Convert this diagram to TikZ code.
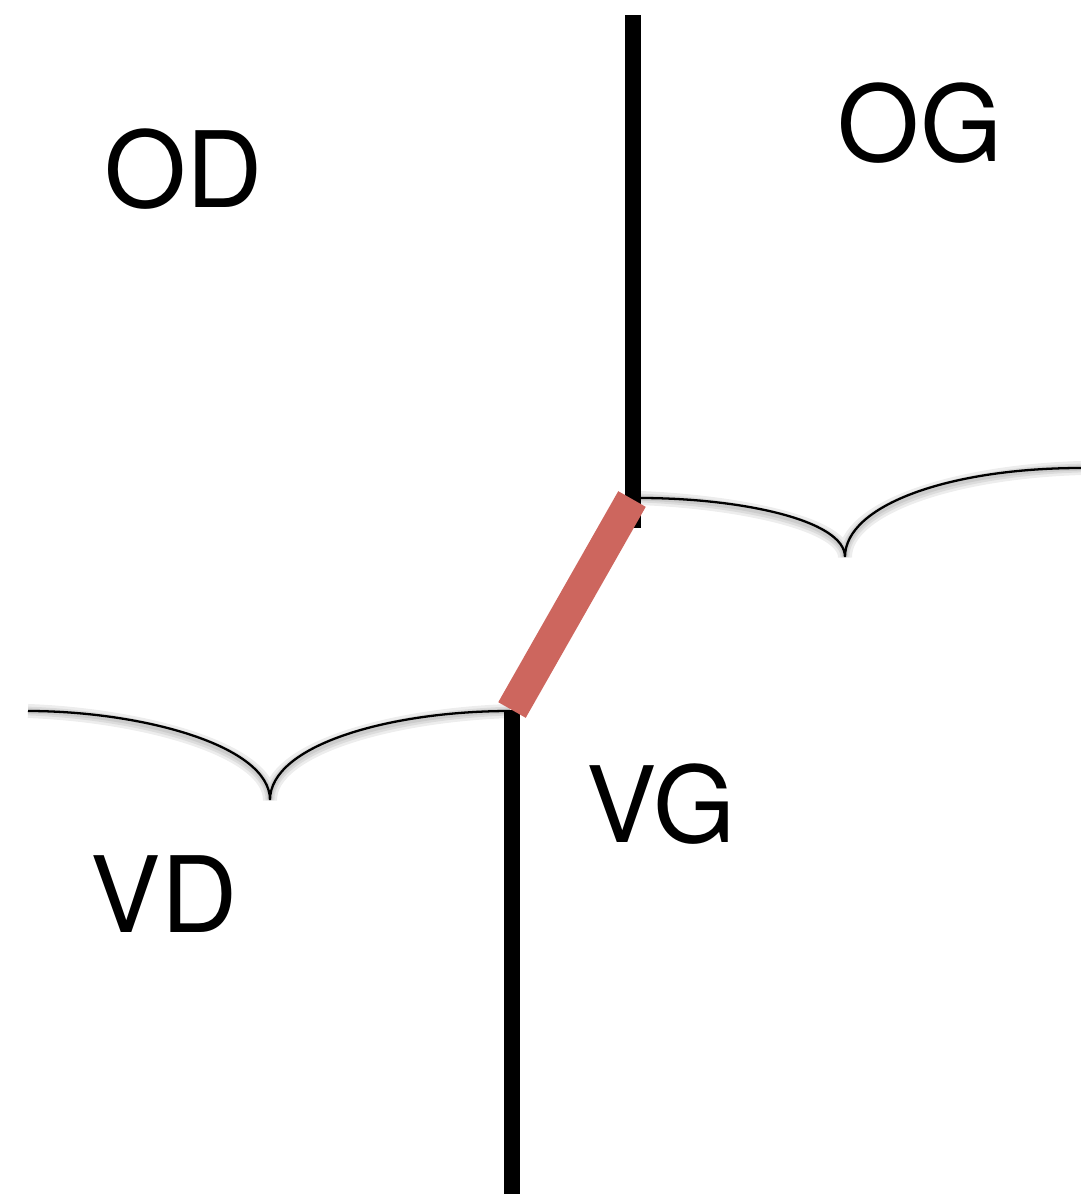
\documentclass[tikz,border=0pt]{standalone}
\usepackage{fontspec}
\setmainfont{TeX Gyre Heros}
\definecolor{barred}{RGB}{205,102,94}
\begin{document}
\begin{tikzpicture}[x=0.02cm,y=-0.02cm,
  wall/.style={line width=9.07pt,black},
  bar/.style={line width=18pt,barred},
  brace/.style={line width=1.3pt,black},
  braceshadow/.style={black,opacity=0.07},
  lab/.style={font=\fontsize{60}{60}\selectfont,anchor=base,inner sep=0pt}]
\useasboundingbox (0,0) rectangle (1081,1198);
% coordinates
\coordinate (t0) at (633,15);
\coordinate (t1) at (633,528);
\coordinate (b0) at (512,710);
\coordinate (b1) at (512,1194);
\coordinate (r0) at (632,499);
\coordinate (r1) at (512,710);
\coordinate (lb0) at (28,711);
\coordinate (lbc) at (270,800);
\coordinate (lb1) at (510,711);
\coordinate (rb0) at (640,498);
\coordinate (rbc) at (845,557);
\coordinate (rb1) at (1081,468);
% brace shadows
\foreach \s/\w in {4/8,4/5,3/3}{
 \draw[braceshadow,line width=\w pt,yshift=-\s*0.02cm] (lb0) .. controls (140,711) and (270,745) .. (lbc) .. controls (270,745) and (390,711) .. (lb1);
 \draw[braceshadow,line width=\w pt,yshift=-\s*0.02cm] (rb0) .. controls (740,498) and (845,520) .. (rbc) .. controls (845,505) and (950,468) .. (rb1);
}
% braces
\draw[brace] (lb0) .. controls (140,711) and (270,745) .. (lbc) .. controls (270,745) and (390,711) .. (lb1);
\draw[brace] (rb0) .. controls (740,498) and (845,520) .. (rbc) .. controls (845,505) and (950,468) .. (rb1);
% walls
\draw[wall] (t0) -- (t1);
\draw[wall] (b0) -- (b1);
% red bar
\draw[bar] (r0) -- (r1);
% labels
\node[lab] (od) at (184,207) {OD};
\node[lab] (og) at (920,161) {OG};
\node[lab] (vg) at (661,842) {VG};
\node[lab] (vd) at (164,932) {VD};
\end{tikzpicture}
\end{document}
